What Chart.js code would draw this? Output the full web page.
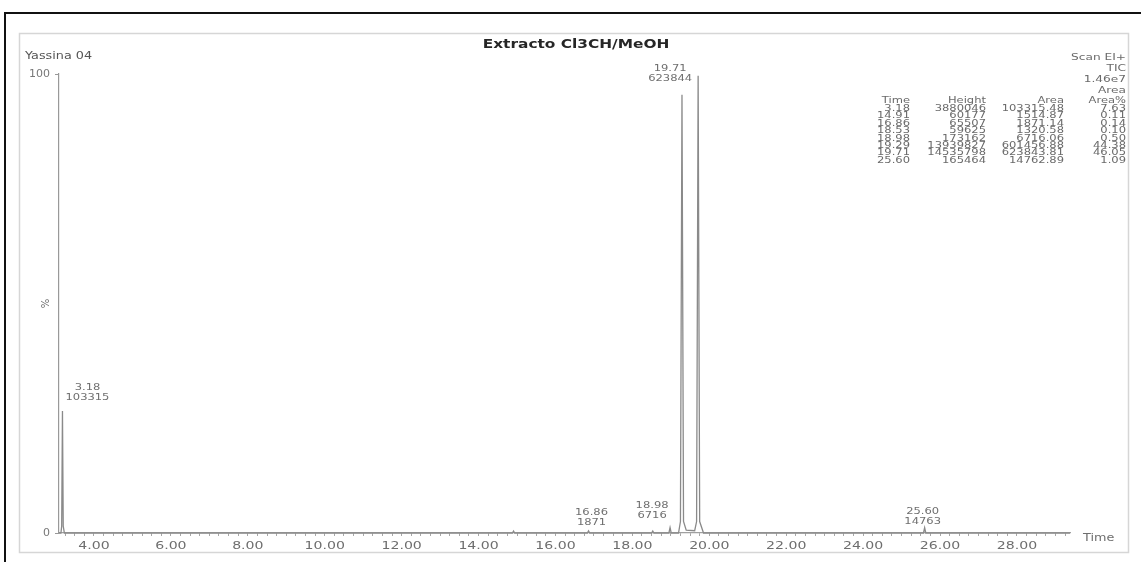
<!DOCTYPE html>
<html>
<head>
<meta charset="utf-8">
<title>Extracto Cl3CH/MeOH</title>
<script src="https://cdn.jsdelivr.net/npm/chart.js@4/dist/chart.umd.min.js"></script>
<style>
  html, body { margin: 0; padding: 0; background: #fff; }
  #wrap { position: relative; width: 1141px; height: 562px; }
</style>
</head>
<body>
<div id="wrap"><canvas id="tic" width="1141" height="562"></canvas></div>
<script>
/* ── TIC trace: retention time (min) / relative intensity (%) ── */
const traceTime = [3.09, 3.14, 3.16, 3.18, 3.20, 3.23,
                   14.88, 14.91, 14.94,
                   16.83, 16.86, 16.89,
                   18.50, 18.53, 18.56,
                   18.95, 18.98, 19.01,
                   19.20, 19.25, 19.29, 19.33, 19.40,
                   19.62, 19.67, 19.71, 19.75, 19.85,
                   25.57, 25.60, 25.63,
                   29.38];
const traceInt  = [0, 0, 1.5, 26.6, 1.5, 0,
                   0, 0.41, 0,
                   0, 0.45, 0,
                   0, 0.41, 0,
                   0, 1.19, 0,
                   0, 2.5, 95.5, 2.5, 0.6,
                   0.5, 2.5, 99.6, 2.5, 0,
                   0, 1.14, 0,
                   0];

/* ── peak table ── */
const peakTime    = ['3.18', '14.91', '16.86', '18.53', '18.98', '19.29', '19.71', '25.60'];
const peakHeight  = ['3880046', '60177', '65507', '59625', '173162', '13939827', '14535798', '165464'];
const peakArea    = ['103315.48', '1514.87', '1871.14', '1320.58', '6716.06', '601456.88', '623843.81', '14762.89'];
const peakAreaPct = ['7.63', '0.11', '0.14', '0.10', '0.50', '44.38', '46.05', '1.09'];
const tableHead   = ['Time', 'Height', 'Area', 'Area%'];
const scanInfo    = ['Scan EI+', 'TIC', '1.46e7', 'Area'];

/* ── annotated peaks (time + rounded area) ── */
const labelTime = [3.18, 16.86, 18.98, 19.71, 25.60];
const labelArea = ['103315', '1871', '6716', '623844', '14763'];

/* ── axis ticks ── */
const xTickValues = [4, 6, 8, 10, 12, 14, 16, 18, 20, 22, 24, 26, 28];
const xTickLabels = ['4.00', '6.00', '8.00', '10.00', '12.00', '14.00', '16.00', '18.00', '20.00', '22.00', '24.00', '26.00', '28.00'];
const yTickValues = [0, 100];

/* label placement relative to the peak apex */
const labelOffset = [
  { dx: 25, dy: -23 },
  { dx: 3,  dy: -18 },
  { dx: -18, dy: -22 },
  { dx: -28, dy: -7 },
  { dx: -2, dy: -16 },
];

const FONT = '"DejaVu Sans", sans-serif';
const WIDE = 1.28;

// the printout's text is stretched sideways
function wide(c, str, x, y, align, sx) {
  c.save();
  c.translate(x, y);
  c.scale(sx || WIDE, 1);
  c.textAlign = align || 'left';
  c.fillText(str, 0, 0);
  c.restore();
}

/* page frame */
const framePlugin = {
  id: 'frame',
  beforeDraw(chart) {
    const c = chart.ctx;
    c.save();
    c.strokeStyle = '#111';
    c.lineWidth = 2;
    c.beginPath();
    c.moveTo(5, 562);
    c.lineTo(5, 13);
    c.lineTo(1141, 13);
    c.stroke();
    c.strokeStyle = '#d6d6d6';
    c.lineWidth = 1.5;
    c.strokeRect(19.5, 33.5, 1109, 519);
    c.restore();
  }
};

/* header, peak table, peak labels, x tick labels */
const textPlugin = {
  id: 'chromText',
  afterDraw(chart) {
    const c = chart.ctx;
    const xs = chart.scales.x, ys = chart.scales.y;
    c.save();
    c.textBaseline = 'middle';

    c.fillStyle = '#262626';
    c.font = 'bold 12px ' + FONT;
    wide(c, 'Extracto Cl3CH/MeOH', 576, 45, 'center');

    c.fillStyle = '#555';
    c.font = '10px ' + FONT;
    wide(c, 'Yassina 04', 25, 56, 'left');

    // y axis unit
    c.save();
    c.translate(46, ys.getPixelForValue(50));
    c.rotate(-Math.PI / 2);
    c.font = '10px ' + FONT;
    c.fillStyle = '#666';
    c.textAlign = 'center';
    c.fillText('%', 0, 0);
    c.restore();

    // x tick labels
    c.fillStyle = '#6e6e6e';
    c.font = '11px ' + FONT;
    xTickValues.forEach((v, i) => wide(c, xTickLabels[i], xs.getPixelForValue(v), 546, 'center'));
    c.font = '10px ' + FONT;
    wide(c, 'Time', 1083, 538, 'left');

    // scan info + peak table
    c.fillStyle = '#6a6a6a';
    c.font = '9.5px ' + FONT;
    scanInfo.forEach((s, i) => wide(c, s, 1126, 58 + i * 10.8, 'right'));
    const colRight = [910, 986, 1064, 1126];
    c.font = '8px ' + FONT;
    tableHead.forEach((s, j) => wide(c, s, colRight[j], 101, 'right', 1.44));
    peakTime.forEach((t, i) => {
      const y = 109 + i * 7.4;
      [t, peakHeight[i], peakArea[i], peakAreaPct[i]].forEach((s, j) => wide(c, s, colRight[j], y, 'right', 1.44));
    });

    // peak annotations
    c.fillStyle = '#6f6f6f';
    c.font = '9px ' + FONT;
    labelTime.forEach((t, i) => {
      const k = traceTime.indexOf(t);
      const px = xs.getPixelForValue(t) + labelOffset[i].dx;
      const py = ys.getPixelForValue(traceInt[k]) + labelOffset[i].dy;
      wide(c, t.toFixed(2), px, py, 'center');
      wide(c, labelArea[i], px, py + 10, 'center');
    });
    c.restore();
  }
};

new Chart(document.getElementById('tic'), {
  type: 'line',
  data: {
    datasets: [{
      data: traceTime.map((t, i) => ({ x: t, y: traceInt[i] })),
      borderColor: '#8a8a8a',
      borderWidth: 1.3,
      pointRadius: 0,
      tension: 0,
      fill: false,
      clip: false,
    }],
  },
  options: {
    responsive: false,
    animation: false,
    events: [],
    layout: { padding: { top: 74, right: 71, left: 0, bottom: 0 } },
    plugins: { legend: { display: false }, tooltip: { enabled: false } },
    scales: {
      x: {
        type: 'linear',
        min: 3.09,
        max: 29.38,
        afterFit(s) { s.height = 29; },
        afterBuildTicks(s) {
          const t = [];
          for (let v = 3.25; v <= 29.25; v += 0.25) t.push({ value: v });
          s.ticks = t;
        },
        grid: { drawOnChartArea: false, color: '#a8a8a8', tickLength: 3, lineWidth: 1 },
        border: { color: '#a0a0a0', width: 1.2 },
        ticks: { display: false },
      },
      y: {
        min: 0,
        max: 100,
        afterFit(s) { s.width = 59; },
        afterBuildTicks(s) { s.ticks = yTickValues.map(v => ({ value: v })); },
        grid: { drawOnChartArea: false, color: '#999', tickLength: 4 },
        border: { color: '#999', width: 1.2 },
        ticks: { color: '#777', padding: 5, font: { family: FONT, size: 11 } },
      },
    },
  },
  plugins: [framePlugin, textPlugin],
});
</script>
</body>
</html>
